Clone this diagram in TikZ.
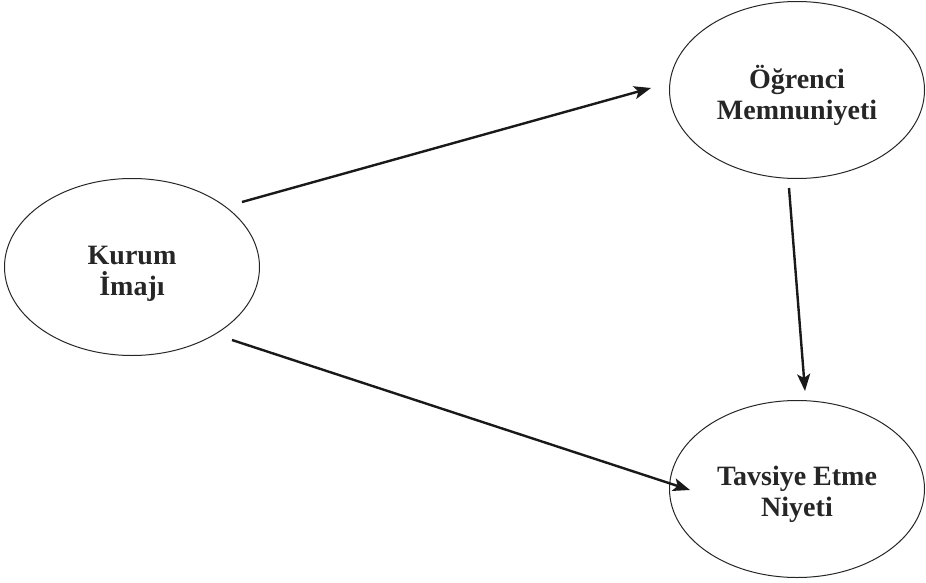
\documentclass[tikz,border=0pt]{standalone}
\usepackage{fontspec}
\setmainfont{Liberation Serif}
\usetikzlibrary{arrows.meta,shapes.geometric}
\begin{document}
\begin{tikzpicture}[x=1pt,y=-1pt,
  construct/.style={draw=black!85, line width=1pt, ellipse, inner sep=0pt,
    minimum width=255pt, minimum height=177pt},
  caption/.style={inner sep=0pt, font=\fontsize{28}{31}\selectfont\bfseries,
    text=black!85, align=center},
  link/.style={draw=black!90, line width=2.4pt,
    -{Stealth[length=17pt,width=13pt,inset=4pt]}}]
\useasboundingbox (0,0) rectangle (926,583);
\node[construct] (ki) at (132,267) {};
\node[construct] (om) at (797,90) {};
\node[construct] (te) at (797,489) {};
\node[caption] (kit) at (132,274) {Kurum\\İmajı};
\node[caption] (omt) at (797,95) {Öğrenci\\Memnuniyeti};
\node[caption] (tet) at (797,494) {Tavsiye Etme\\Niyeti};
\coordinate (a1s) at (242,202);
\coordinate (a1e) at (651,88);
\coordinate (a2s) at (232,340);
\coordinate (a2e) at (690,490);
\coordinate (a3s) at (789,188);
\coordinate (a3e) at (805,391);
\draw[link] (a1s) -- (a1e);
\draw[link] (a2s) -- (a2e);
\draw[link] (a3s) -- (a3e);
\end{tikzpicture}
\end{document}
